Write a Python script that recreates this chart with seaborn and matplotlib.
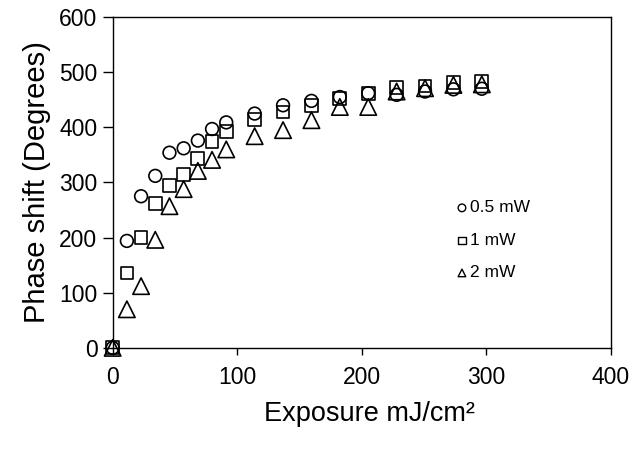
import matplotlib
matplotlib.use('Agg')
import matplotlib.pyplot as plt
import seaborn as sns

# Exposure values (mJ/cm^2) shared by all three series
exposure = [0, 11.4, 22.8, 34.2, 45.6, 57, 68.4, 79.8, 91.2,
            114, 136.8, 159.6, 182.4, 205.2, 228, 250.8, 273.6, 296.4]

# Phase shift (degrees)
shift_05mw = [0, 194, 275, 312, 354, 362, 376, 397, 409,
              425, 440, 448, 455, 462, 459, 465, 469, 470]
shift_1mw = [0, 136, 200, 262, 294, 315, 343, 374, 392,
             414, 428, 440, 452, 462, 472, 475, 481, 483]
shift_2mw = [0, 70, 112, 196, 257, 288, 321, 341, 360,
             384, 395, 413, 437, 437, 465, 471, 477, 478]

labels = ['0.5 mW', '1 mW', '2 mW']

sns.set_theme(style='ticks')
plt.rcParams['font.family'] = ['Liberation Sans', 'DejaVu Sans']
plt.rcParams['text.color'] = 'black'
plt.rcParams['axes.labelcolor'] = 'black'

fig, ax = plt.subplots(figsize=(6.33, 4.5), dpi=100)
fig.subplots_adjust(left=0.178, right=0.965, bottom=0.227, top=0.962)

series = [(shift_05mw, 'o', 84), (shift_1mw, 's', 84), (shift_2mw, '^', 140)]
for (vals, mk, size), lab in zip(series, labels):
    sns.scatterplot(x=exposure, y=vals, marker=mk, s=size, ax=ax,
                    facecolor='none', edgecolor='black', linewidth=1.2,
                    label=lab, clip_on=False, zorder=3)

ax.set_xlim(0, 400)
ax.set_ylim(0, 600)
ax.set_xticks(range(0, 401, 100))
ax.set_yticks(range(0, 601, 100))

for side in ['top', 'right', 'left', 'bottom']:
    ax.spines[side].set_visible(True)
    ax.spines[side].set_color('black')
    ax.spines[side].set_linewidth(1.0)

ax.tick_params(axis='x', direction='out', length=5, width=1, labelsize=16.5,
               colors='black', pad=8)
ax.tick_params(axis='y', direction='out', length=7, width=1, labelsize=16.5,
               colors='black', pad=4)

ax.set_xlabel('Exposure mJ/cm²', fontsize=19.5)
ax.set_ylabel('Phase shift (Degrees)', fontsize=21, labelpad=6)
ax.xaxis.set_label_coords(0.515, -0.16)

leg = ax.legend(loc='center left', bbox_to_anchor=(0.675, 0.325), frameon=False,
                fontsize=12.5, handletextpad=0.1, handlelength=0.7,
                labelspacing=1.0, borderaxespad=0)
for h in leg.legend_handles:
    h.set_sizes([30])
    h.set_linewidth(1.0)

fig.savefig('out.png', dpi=100)
plt.close(fig)
